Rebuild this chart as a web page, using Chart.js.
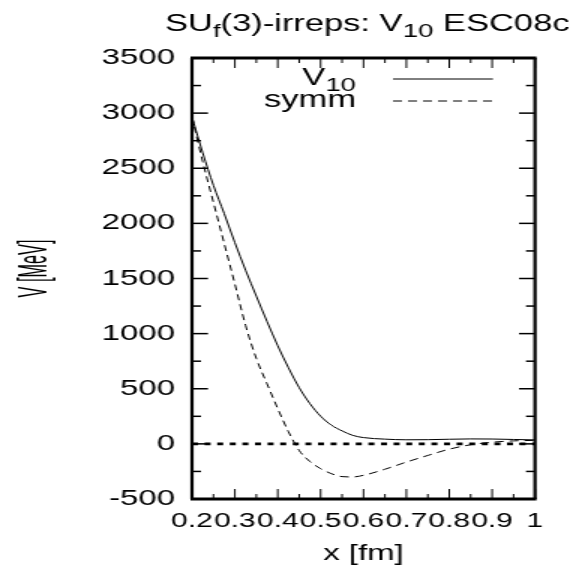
<!DOCTYPE html>
<html>
<head>
<meta charset="utf-8">
<title>SU_f(3)-irreps: V_10 ESC08c</title>
<script src="https://cdn.jsdelivr.net/npm/chart.js@4.4.1/dist/chart.umd.min.js"></script>
<style>
    html, body { margin: 0; padding: 0; background: #fff; }
    #chart { display: block; }
</style>
</head>
<body>
<canvas id="chart" width="386" height="568" style="width:579px;height:568px"></canvas>
<script>
// values
const xValues = [0.2, 0.225, 0.25, 0.275, 0.3, 0.325, 0.35, 0.375, 0.4, 0.425, 0.45, 0.475, 0.5,
    0.525, 0.55, 0.575, 0.6, 0.65, 0.7, 0.75, 0.8, 0.85, 0.9, 0.95, 1.0];
const v10Values = [2965, 2640, 2345, 2090, 1825, 1575, 1340, 1110, 890, 690, 510, 365, 251,
    170, 118, 77, 57, 43, 37, 38, 42, 45, 44, 40, 36];
const symmValues = [2965, 2560, 2190, 1820, 1450, 1075, 775, 545, 320, 110, -60, -160, -225,
    -270, -297, -300, -285, -230, -165, -105, -48, -8, 15, 27, 32];
const seriesNames = ['V_10', 'symm'];
const xTickLabels = ['0.2', '0.3', '0.4', '0.5', '0.6', '0.7', '0.8', '0.9', '1'];
const yTickLabels = ['-500', '0', '500', '1000', '1500', '2000', '2500', '3000', '3500'];
const chartTitle = 'SU_f(3)-irreps: V_10 ESC08c';

// canvas is 386 wide but shown 579 wide, so everything is stretched like the original
const SX = 1.5;
const FONT = '"Liberation Sans", Arial, sans-serif';

function pickLabel(list, value) {
    const hit = list.find(l => Math.abs(Number(l) - value) < 1e-6);
    return hit === undefined ? '' : hit;
}

// splits "V_10" into [{t:'V'},{t:'10',sub:true}]
function richParts(str) {
    const parts = [];
    let last = 0;
    str.replace(/_(\w+)/g, (m, sub, idx) => {
        if (idx > last) parts.push({t: str.slice(last, idx)});
        parts.push({t: sub, sub: true});
        last = idx + m.length;
    });
    if (last < str.length) parts.push({t: str.slice(last)});
    return parts;
}

function drawRich(ctx, str, x, y, size, align) {
    const parts = richParts(str);
    const subSize = size * 0.8;
    let total = 0;
    parts.forEach(p => {
        ctx.font = (p.sub ? subSize : size) + 'px ' + FONT;
        p.w = ctx.measureText(p.t).width;
        total += p.w;
    });
    let cx = align === 'right' ? x - total : align === 'center' ? x - total / 2 : x;
    ctx.textAlign = 'left';
    ctx.textBaseline = 'alphabetic';
    parts.forEach(p => {
        ctx.font = (p.sub ? subSize : size) + 'px ' + FONT;
        ctx.fillText(p.t, cx, p.sub ? y + size * 0.28 : y);
        cx += p.w;
    });
}

function line(ctx, x1, y1, x2, y2) {
    ctx.beginPath();
    ctx.moveTo(x1, y1);
    ctx.lineTo(x2, y2);
    ctx.stroke();
}

const framePlugin = {
    id: 'frame',
    beforeDatasetsDraw(chart) {
        const {ctx, chartArea: a, scales: {y}} = chart;
        const y0 = y.getPixelForValue(0);
        ctx.save();
        ctx.strokeStyle = '#000';
        ctx.lineWidth = 2.7;
        ctx.setLineDash([4, 4.4]);
        line(ctx, a.left, y0, a.right, y0);
        ctx.restore();
    },
    afterDraw(chart) {
        const {ctx, chartArea: a, scales: {x, y}} = chart;
        ctx.save();
        ctx.strokeStyle = '#000';
        ctx.fillStyle = '#000';

        // inward ticks on all four sides
        ctx.lineWidth = 1;
        x.ticks.forEach(t => {
            const px = x.getPixelForValue(t.value);
            const len = t.label ? 10 : 5;
            line(ctx, px, a.bottom, px, a.bottom - len);
            line(ctx, px, a.top, px, a.top + len);
        });
        ctx.lineWidth = 1.5;
        y.ticks.forEach(t => {
            const py = y.getPixelForValue(t.value);
            const len = (t.label ? 16 : 9) / SX;
            line(ctx, a.left, py, a.left + len, py);
            line(ctx, a.right, py, a.right - len, py);
        });

        // box
        ctx.lineWidth = 3;
        line(ctx, a.left - 1, a.top, a.right + 1, a.top);
        line(ctx, a.left - 1, a.bottom, a.right + 1, a.bottom);
        ctx.lineWidth = 2.2;
        line(ctx, a.left, a.top, a.left, a.bottom);
        line(ctx, a.right, a.top, a.right, a.bottom);

        // title
        drawRich(ctx, chartTitle, (a.left + a.right) / 2 + 2.5, 30.5, 23, 'center');

        // key
        chart.data.datasets.forEach((ds, i) => {
            const base = 85 + i * 22;
            drawRich(ctx, seriesNames[i], 356 / SX, base, 23, 'right');
            ctx.lineWidth = 1;
            ctx.setLineDash(ds.borderDash || []);
            line(ctx, 393 / SX, base - 6, 493 / SX, base - 6);
            ctx.setLineDash([]);
        });

        // y axis title, rotated and squeezed along its length
        ctx.font = '28px ' + FONT;
        const w = ctx.measureText('V [MeV]').width;
        ctx.translate(35 / SX, 268.5);
        ctx.rotate(-Math.PI / 2);
        ctx.scale(58 / w, 1);
        ctx.textAlign = 'center';
        ctx.textBaseline = 'middle';
        ctx.fillText('V [MeV]', 0, 0);
        ctx.restore();
    }
};

new Chart(document.getElementById('chart').getContext('2d'), {
    type: 'line',
    data: {
        datasets: [
            {
                label: seriesNames[0],
                data: xValues.map((xv, i) => ({x: xv, y: v10Values[i]})),
                borderColor: '#000',
                borderWidth: 1,
                pointRadius: 0,
                cubicInterpolationMode: 'monotone',
                fill: false
            },
            {
                label: seriesNames[1],
                data: xValues.map((xv, i) => ({x: xv, y: symmValues[i]})),
                borderColor: '#000',
                borderWidth: 1,
                borderDash: [6, 4],
                pointRadius: 0,
                cubicInterpolationMode: 'monotone',
                fill: false
            }
        ]
    },
    options: {
        responsive: false,
        animation: false,
        devicePixelRatio: 1,
        events: [],
        layout: {padding: {left: 0, right: 386 - 535 / SX, top: 58, bottom: 0}},
        plugins: {
            legend: {display: false},
            title: {display: false},
            tooltip: {enabled: false}
        },
        scales: {
            x: {
                type: 'linear',
                min: 0.2,
                max: 1,
                grid: {display: false, drawTicks: false},
                border: {display: false},
                ticks: {
                    stepSize: 0.05,
                    autoSkip: false,
                    maxRotation: 0,
                    padding: 10,
                    color: '#000',
                    font: {family: FONT, size: 20},
                    callback: v => pickLabel(xTickLabels, v)
                },
                title: {
                    display: true,
                    text: 'x [fm]',
                    color: '#000',
                    font: {family: FONT, size: 22},
                    padding: {top: 0, bottom: 1}
                },
                afterFit: s => { s.height = 568 - 499; }
            },
            y: {
                min: -500,
                max: 3500,
                grid: {display: false, drawTicks: false},
                border: {display: false},
                ticks: {
                    stepSize: 250,
                    autoSkip: false,
                    padding: 17 / SX,
                    color: '#000',
                    font: {family: FONT, size: 22},
                    callback: v => pickLabel(yTickLabels, v)
                },
                afterFit: s => { s.width = 192 / SX; }
            }
        }
    },
    plugins: [framePlugin]
});
</script>
</body>
</html>
